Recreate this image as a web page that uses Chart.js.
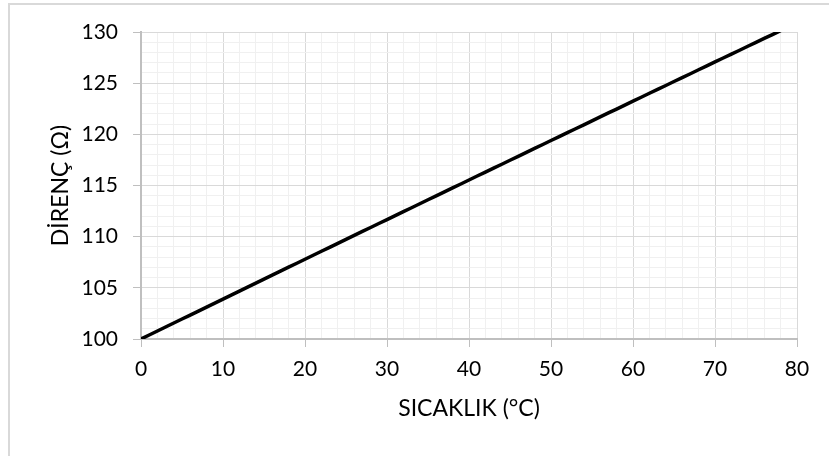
<!DOCTYPE html>
<html>
<head>
<meta charset="utf-8">
<script src="https://cdn.jsdelivr.net/npm/chart.js@4.4.0/dist/chart.umd.min.js"></script>
<style>
  html, body { margin: 0; padding: 0; background: #ffffff; }
  #wrap { width: 829px; height: 456px; }
</style>
</head>
<body>
<div id="wrap"><canvas id="c" width="829" height="456"></canvas></div>
<script>
// Temperature (°C) and resistance (Ω) (PT100 curve)
const temperatures = [0,1,2,3,4,5,6,7,8,9,10,11,12,13,14,15,16,17,18,19,20,21,22,23,24,25,26,27,28,29,30,31,32,33,34,35,36,37,38,39,40,41,42,43,44,45,46,47,48,49,50,51,52,53,54,55,56,57,58,59,60,61,62,63,64,65,66,67,68,69,70,71,72,73,74,75,76,77,78];
const resistances = [100.00,100.39,100.78,101.17,101.56,101.95,102.34,102.73,103.12,103.51,103.90,104.29,104.68,105.07,105.46,105.85,106.24,106.63,107.02,107.40,107.79,108.18,108.57,108.96,109.35,109.73,110.12,110.51,110.90,111.29,111.67,112.06,112.45,112.83,113.22,113.61,113.99,114.38,114.77,115.15,115.54,115.93,116.31,116.70,117.08,117.47,117.85,118.24,118.62,119.01,119.40,119.78,120.16,120.55,120.93,121.32,121.70,122.09,122.47,122.86,123.24,123.62,124.01,124.39,124.77,125.16,125.54,125.92,126.31,126.69,127.08,127.46,127.84,128.22,128.61,128.99,129.37,129.75,130.13];
const xTickLabels = [0,10,20,30,40,50,60,70,80];
const yTickLabels = [100,105,110,115,120,125,130];
const xTitle = 'SICAKLIK (°C)';
const yTitle = 'DİRENÇ (Ω)';

const points = temperatures.map((t, i) => ({ x: t, y: resistances[i] }));
const FONT = 'Lato';

const frame = {
  id: 'frame',
  beforeDraw(chart) {
    const ctx = chart.ctx;
    ctx.save();
    ctx.fillStyle = '#ffffff';
    ctx.fillRect(0, 0, chart.width, chart.height);
    ctx.strokeStyle = '#d9d9d9';
    ctx.lineWidth = 2;
    ctx.beginPath();
    ctx.moveTo(9, chart.height);
    ctx.lineTo(9, 4);
    ctx.lineTo(chart.width, 4);
    ctx.stroke();
    ctx.restore();
  }
};

new Chart(document.getElementById('c'), {
  type: 'line',
  data: {
    datasets: [{
      data: points,
      borderColor: '#000000',
      borderWidth: 3.5,
      pointRadius: 0,
      tension: 0,
      fill: false
    }]
  },
  options: {
    responsive: false,
    devicePixelRatio: 1,
    animation: false,
    layout: { padding: { left: 0, top: 32, right: 32, bottom: 0 } },
    plugins: { legend: { display: false }, tooltip: { enabled: false } },
    scales: {
      x: {
        type: 'linear',
        min: 0, max: 80,
        afterFit(s) { s.height = 117; },
        ticks: {
          stepSize: 2,
          autoSkip: false,
          maxRotation: 0,
          padding: 10,
          color: '#000000',
          font: { family: FONT, size: 21 },
          callback: v => xTickLabels.includes(v) ? String(v) : ''
        },
        grid: {
          color: c => (c.tick && xTickLabels.includes(c.tick.value)) ? '#d9d9d9' : '#f0f0f0',
          tickColor: c => (c.tick && xTickLabels.includes(c.tick.value)) ? '#bfbfbf' : 'rgba(0,0,0,0)',
          tickLength: 8,
          lineWidth: 1
        },
        border: { color: '#bfbfbf', width: 2 },
        title: {
          display: true, text: xTitle, color: '#000000',
          font: { family: FONT, size: 23 },
          padding: { top: 0, bottom: 34 }
        }
      },
      y: {
        min: 100, max: 130,
        afterFit(s) { s.width = 141; },
        ticks: {
          stepSize: 1,
          autoSkip: false,
          padding: 15,
          color: '#000000',
          font: { family: FONT, size: 21 },
          callback: v => yTickLabels.includes(v) ? String(v) : ''
        },
        grid: {
          color: c => (c.tick && yTickLabels.includes(c.tick.value)) ? '#d9d9d9' : '#f0f0f0',
          tickColor: c => (c.tick && yTickLabels.includes(c.tick.value)) ? '#bfbfbf' : 'rgba(0,0,0,0)',
          tickLength: 8,
          lineWidth: 1
        },
        border: { color: '#bfbfbf', width: 2 },
        title: {
          display: true, text: yTitle, color: '#000000',
          font: { family: FONT, size: 23 },
          padding: { top: 47, bottom: 0 }
        }
      }
    }
  },
  plugins: [frame]
});
</script>
</body>
</html>
